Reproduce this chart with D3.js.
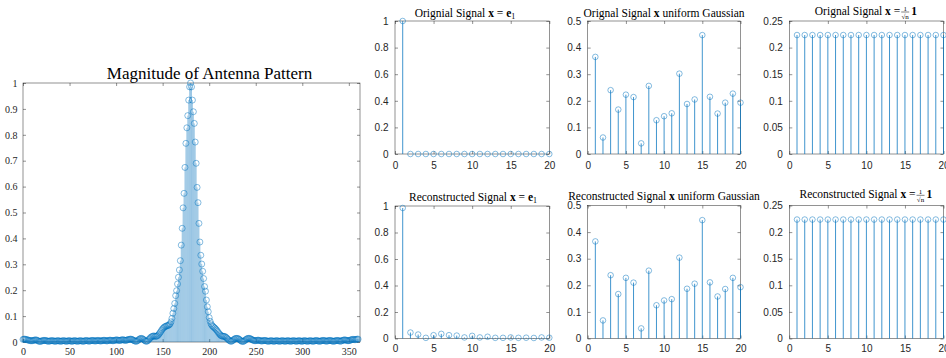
<!DOCTYPE html>
<html>
<head>
<meta charset="utf-8">
<script src="https://cdn.jsdelivr.net/npm/d3@7"></script>
<style>
  html, body { margin: 0; padding: 0; background: #fff; }
  svg { display: block; }
</style>
</head>
<body>
<div id="chart"></div>
<script>
// antenna pattern magnitude, one value per degree 0..360
const patternMagnitude = [
  0.010, 0.011, 0.011, 0.010, 0.009, 0.008, 0.007, 0.006, 0.005, 0.005,
  0.005, 0.006, 0.007, 0.008, 0.008, 0.007, 0.005, 0.003, 0.002, 0.003,
  0.004, 0.005, 0.006, 0.006, 0.006, 0.005, 0.004, 0.003, 0.003, 0.004,
  0.005, 0.005, 0.005, 0.004, 0.003, 0.003, 0.004, 0.005, 0.005, 0.004,
  0.003, 0.003, 0.004, 0.005, 0.005, 0.004, 0.003, 0.003, 0.004, 0.005,
  0.005, 0.004, 0.003, 0.003, 0.004, 0.005, 0.005, 0.004, 0.003, 0.003,
  0.004, 0.005, 0.005, 0.004, 0.003, 0.003, 0.004, 0.005, 0.006, 0.005,
  0.004, 0.003, 0.004, 0.005, 0.006, 0.006, 0.005, 0.004, 0.004, 0.005,
  0.006, 0.006, 0.005, 0.004, 0.004, 0.005, 0.006, 0.007, 0.006, 0.005,
  0.004, 0.005, 0.006, 0.007, 0.007, 0.006, 0.005, 0.005, 0.006, 0.007,
  0.008, 0.008, 0.007, 0.006, 0.006, 0.007, 0.008, 0.009, 0.008, 0.007,
  0.006, 0.007, 0.008, 0.009, 0.010, 0.011, 0.011, 0.010, 0.008, 0.006,
  0.004, 0.003, 0.003, 0.005, 0.008, 0.011, 0.013, 0.014, 0.013, 0.011,
  0.008, 0.005, 0.003, 0.003, 0.005, 0.009, 0.013, 0.017, 0.020, 0.022,
  0.023, 0.023, 0.022, 0.022, 0.023, 0.026, 0.030, 0.035, 0.040, 0.046,
  0.051, 0.055, 0.058, 0.060, 0.062, 0.063, 0.064, 0.066, 0.070, 0.078,
  0.091, 0.111, 0.129, 0.149, 0.179, 0.198, 0.224, 0.250, 0.278, 0.314,
  0.374, 0.439, 0.518, 0.574, 0.674, 0.767, 0.827, 0.874, 0.934, 0.985,
  1.000, 0.985, 0.934, 0.889, 0.844, 0.772, 0.690, 0.597, 0.538, 0.458,
  0.386, 0.335, 0.301, 0.273, 0.245, 0.214, 0.196, 0.162, 0.136, 0.117,
  0.094, 0.080, 0.070, 0.064, 0.060, 0.057, 0.054, 0.050, 0.046, 0.041,
  0.036, 0.031, 0.027, 0.024, 0.023, 0.022, 0.022, 0.021, 0.018, 0.015,
  0.011, 0.008, 0.005, 0.003, 0.003, 0.005, 0.008, 0.011, 0.013, 0.014,
  0.014, 0.013, 0.011, 0.008, 0.005, 0.003, 0.002, 0.003, 0.005, 0.008,
  0.011, 0.013, 0.014, 0.014, 0.013, 0.011, 0.009, 0.007, 0.006, 0.005,
  0.005, 0.006, 0.007, 0.007, 0.006, 0.005, 0.004, 0.004, 0.005, 0.006,
  0.006, 0.005, 0.004, 0.003, 0.003, 0.004, 0.005, 0.005, 0.004, 0.003,
  0.003, 0.004, 0.005, 0.005, 0.004, 0.003, 0.003, 0.004, 0.005, 0.005,
  0.004, 0.003, 0.003, 0.004, 0.005, 0.005, 0.004, 0.003, 0.003, 0.004,
  0.005, 0.005, 0.004, 0.003, 0.003, 0.004, 0.005, 0.005, 0.004, 0.003,
  0.003, 0.004, 0.005, 0.005, 0.004, 0.003, 0.003, 0.004, 0.005, 0.005,
  0.004, 0.003, 0.003, 0.004, 0.005, 0.006, 0.005, 0.004, 0.003, 0.003,
  0.004, 0.005, 0.006, 0.006, 0.005, 0.004, 0.003, 0.004, 0.005, 0.006,
  0.006, 0.005, 0.004, 0.003, 0.003, 0.004, 0.005, 0.006, 0.006, 0.005,
  0.004, 0.003, 0.004, 0.006, 0.007, 0.008, 0.008, 0.007, 0.006, 0.005,
  0.005, 0.006, 0.008, 0.009, 0.010, 0.010, 0.009, 0.009, 0.010, 0.011,
  0.011
];
const patternAngle = patternMagnitude.map((d, i) => i);
const patternXTicks = [0, 50, 100, 150, 200, 250, 300, 350];
const patternYTicks = [0, 0.1, 0.2, 0.3, 0.4, 0.5, 0.6, 0.7, 0.8, 0.9, 1];

const signalIndex = [1, 2, 3, 4, 5, 6, 7, 8, 9, 10, 11, 12, 13, 14, 15, 16, 17, 18, 19, 20];
const originalE1 = [1, 0, 0, 0, 0, 0, 0, 0, 0, 0, 0, 0, 0, 0, 0, 0, 0, 0, 0, 0];
const reconE1 = [0.985, 0.045, 0.030, 0.005, 0.025, 0.035, 0.025, 0.022, 0.008, 0.020,
                 0.008, 0.013, 0.005, 0.005, 0.008, 0.005, 0.006, 0.004, 0.008, 0.006];
const originalGauss = [0.365, 0.062, 0.240, 0.167, 0.223, 0.214, 0.040, 0.256, 0.127, 0.142,
                       0.153, 0.302, 0.188, 0.205, 0.447, 0.215, 0.152, 0.193, 0.227, 0.193];
const reconGauss = [0.365, 0.068, 0.238, 0.167, 0.228, 0.210, 0.038, 0.255, 0.125, 0.143,
                    0.148, 0.304, 0.187, 0.206, 0.445, 0.211, 0.158, 0.186, 0.228, 0.193];
const originalOnes = [0.2236, 0.2236, 0.2236, 0.2236, 0.2236, 0.2236, 0.2236, 0.2236, 0.2236, 0.2236,
                      0.2236, 0.2236, 0.2236, 0.2236, 0.2236, 0.2236, 0.2236, 0.2236, 0.2236, 0.2236];
const reconOnes = [0.2236, 0.2236, 0.2236, 0.2236, 0.2236, 0.2236, 0.2236, 0.2236, 0.2236, 0.2236,
                   0.2236, 0.2236, 0.2236, 0.2236, 0.2236, 0.2236, 0.2236, 0.2236, 0.2236, 0.2236];

const smallXTicks = [0, 5, 10, 15, 20];
const e1YTicks = [0, 0.2, 0.4, 0.6, 0.8, 1];
const gaussYTicks = [0, 0.1, 0.2, 0.3, 0.4, 0.5];
const onesYTicks = [0, 0.05, 0.1, 0.15, 0.2, 0.25];

const width = 946, height = 358;
const blue = "#0072BD";
const axisColor = "#262626";
const serif = "'Liberation Serif', 'Times New Roman', serif";
const sans = "'Liberation Sans', Arial, Helvetica, sans-serif";

const svg = d3.select("#chart").append("svg")
  .attr("width", width)
  .attr("height", height);

// MATLAB-like box with inward ticks on all four sides
function drawFrame(g, x, y, xTicks, yTicks, font, xPad, yPad) {
  const [x0, x1] = x.range();
  const [y1, y0] = y.range();

  const styleAxis = sel => {
    sel.select(".domain").remove();
    sel.attr("font-family", font).attr("font-size", 10);
    sel.selectAll("line").attr("stroke", axisColor).attr("stroke-width", 0.5);
    sel.selectAll("text").attr("fill", axisColor);
  };

  g.append("g").attr("transform", `translate(0,${y1})`)
    .call(d3.axisBottom(x).tickValues(xTicks).tickSize(-3).tickPadding(xPad).tickFormat(d => d))
    .call(styleAxis);
  g.append("g").attr("transform", `translate(0,${y0})`)
    .call(d3.axisTop(x).tickValues(xTicks).tickSize(-3).tickFormat(""))
    .call(styleAxis);
  g.append("g").attr("transform", `translate(${x0},0)`)
    .call(d3.axisLeft(y).tickValues(yTicks).tickSize(-3).tickPadding(yPad).tickFormat(d => d))
    .call(styleAxis);
  g.append("g").attr("transform", `translate(${x1},0)`)
    .call(d3.axisRight(y).tickValues(yTicks).tickSize(-3).tickFormat(""))
    .call(styleAxis);

  g.append("rect")
    .attr("x", x0).attr("y", y0)
    .attr("width", x1 - x0).attr("height", y1 - y0)
    .attr("fill", "none")
    .attr("stroke", axisColor)
    .attr("stroke-width", 0.5);
}

function drawStems(g, x, y, xs, ys, stemWidth, r) {
  const pts = xs.map((d, i) => ({x: d, y: ys[i]}));
  g.append("g").selectAll("line").data(pts).enter()
    .append("line")
    .attr("x1", d => x(d.x)).attr("x2", d => x(d.x))
    .attr("y1", y(0)).attr("y2", d => y(d.y))
    .attr("stroke", blue)
    .attr("stroke-opacity", 0.75)
    .attr("stroke-width", stemWidth);
  g.append("g").selectAll("circle").data(pts).enter()
    .append("circle")
    .attr("cx", d => x(d.x)).attr("cy", d => y(d.y))
    .attr("r", r)
    .attr("fill", "none")
    .attr("stroke", blue)
    .attr("stroke-opacity", 0.8)
    .attr("stroke-width", 0.6);
}

// title: plain text, bold x, then either e_1 or 1/sqrt(n) 1
function drawTitle(g, cx, baseline, label, kind) {
  const t = g.append("g");
  const txt = t.append("text")
    .attr("y", baseline)
    .attr("font-family", serif)
    .attr("font-size", 11.5)
    .attr("fill", "#000");
  txt.append("tspan").text(label + " ");
  txt.append("tspan").attr("font-weight", "bold").text("x");
  if (kind === "gauss") {
    txt.append("tspan").text(" uniform Gaussian");
  } else if (kind === "e1") {
    txt.append("tspan").text(" = ");
    txt.append("tspan").attr("font-weight", "bold").text("e");
    txt.append("tspan").attr("font-size", 8).attr("dy", 2).text("1");
  } else {
    txt.append("tspan").text(" = ");
  }
  let w = txt.node().getComputedTextLength();
  if (kind === "ones") {
    const fx = w + 5;
    t.append("text").attr("x", fx).attr("y", baseline - 4.5)
      .attr("text-anchor", "middle").attr("font-family", serif).attr("font-size", 7)
      .text("1");
    t.append("line").attr("x1", fx - 4).attr("x2", fx + 4)
      .attr("y1", baseline - 3).attr("y2", baseline - 3)
      .attr("stroke", "#000").attr("stroke-width", 0.5);
    t.append("text").attr("x", fx).attr("y", baseline + 3.5)
      .attr("text-anchor", "middle").attr("font-family", serif).attr("font-size", 7)
      .text("\u221An");
    t.append("text").attr("x", fx + 6).attr("y", baseline)
      .attr("font-family", serif).attr("font-size", 11.5).attr("font-weight", "bold")
      .text("1");
    w = fx + 12;
  }
  t.attr("transform", `translate(${cx - w / 2},0)`);
}

// big antenna pattern panel
const big = svg.append("g");
const bx = d3.scaleLinear().domain([0, 362]).range([23, 360]);
const by = d3.scaleLinear().domain([0, 1]).range([342, 83]);
drawFrame(big, bx, by, patternXTicks, patternYTicks, serif, 6, 5.5);
drawStems(big, bx, by, patternAngle, patternMagnitude, 0.5, 3);
big.append("text")
  .attr("x", 209.5).attr("y", 78.5)
  .attr("text-anchor", "middle")
  .attr("font-family", serif)
  .attr("font-size", 17)
  .text("Magnitude of Antenna Pattern");

// six small signal panels
const panels = [
  {left: 395, right: 549.3, top: 21, bottom: 154, values: originalE1, yMax: 1, yTicks: e1YTicks,
   label: "Orignial Signal", kind: "e1", titleX: 465, titleY: 16.7, xPad: 7.5},
  {left: 587.7, right: 740.5, top: 21, bottom: 154, values: originalGauss, yMax: 0.5, yTicks: gaussYTicks,
   label: "Orignal Signal", kind: "gauss", titleX: 664, titleY: 16.7, xPad: 7.5},
  {left: 789.3, right: 943.5, top: 21, bottom: 154, values: originalOnes, yMax: 0.25, yTicks: onesYTicks,
   label: "Orignal Signal", kind: "ones", titleX: 866, titleY: 15, xPad: 7.5},
  {left: 395, right: 549.3, top: 206, bottom: 338.5, values: reconE1, yMax: 1, yTicks: e1YTicks,
   label: "Reconstructed Signal", kind: "e1", titleX: 473, titleY: 200.7, xPad: 6.7},
  {left: 587.7, right: 740.5, top: 205.5, bottom: 338.5, values: reconGauss, yMax: 0.5, yTicks: gaussYTicks,
   label: "Reconstructed Signal", kind: "gauss", titleX: 664, titleY: 200, xPad: 6.7},
  {left: 789.3, right: 943.5, top: 205.5, bottom: 338.5, values: reconOnes, yMax: 0.25, yTicks: onesYTicks,
   label: "Reconstructed Signal", kind: "ones", titleX: 866, titleY: 198.3, xPad: 6.7}
];

panels.forEach(p => {
  const g = svg.append("g");
  const x = d3.scaleLinear().domain([0, 20]).range([p.left, p.right]);
  const y = d3.scaleLinear().domain([0, p.yMax]).range([p.bottom, p.top]);
  drawFrame(g, x, y, smallXTicks, p.yTicks, sans, p.xPad, 6.5);
  drawStems(g, x, y, signalIndex, p.values, 1, 2.8);
  drawTitle(g, p.titleX, p.titleY, p.label, p.kind);
});
</script>
</body>
</html>
